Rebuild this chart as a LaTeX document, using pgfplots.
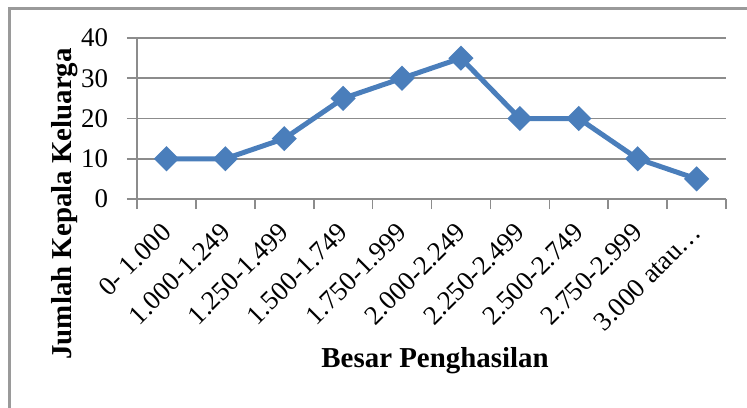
\documentclass[border=0pt]{standalone}
\usepackage{fontspec}
\setmainfont{Liberation Serif}
\usepackage{pgfplots}
\pgfplotsset{compat=1.18}
\definecolor{lineblue}{HTML}{4A7EBB}
\definecolor{gridgray}{HTML}{8C8C8C}
\definecolor{framegray}{HTML}{9A9A9A}
\begin{document}
\begin{tikzpicture}
\useasboundingbox (0,0) rectangle (373.5bp,204bp);
\begin{scope}
\clip (0,0) rectangle (373.5bp,204bp);
\draw[framegray, line width=1.5bp] (4.5bp,199.5bp) rectangle (400bp,-20bp);
\end{scope}
\begin{axis}[
  at={(68.5bp,104.5bp)}, anchor=south west,
  scale only axis, width=294.5bp, height=80.5bp,
  xmin=-0.5, xmax=9.5, ymin=0, ymax=40,
  axis x line*=bottom, axis y line*=left,
  axis line style={gridgray, line width=0.8bp},
  ytick={0,10,20,30,40},
  ymajorgrids, grid style={gridgray, line width=0.8bp},
  xtick={-0.5,0.5,1.5,2.5,3.5,4.5,5.5,6.5,7.5,8.5,9.5}, xticklabels={},
  extra x ticks={0,1,2,3,4,5,6,7,8,9},
  extra x tick labels={0- 1.000,1.000-1.249,1.250-1.499,1.500-1.749,1.750-1.999,2.000-2.249,2.250-2.499,2.500-2.749,2.750-2.999,3.000 atau…},
  extra x tick style={major tick length=0pt, grid=none,
    tick label style={xshift=2.5bp, yshift=-12bp, rotate=45, anchor=east}},
  tick align=outside, major tick length=5bp,
  tick style={gridgray, line width=0.8bp},
  /pgf/number format/assume math mode=true,
  tick label style={font=\fontsize{13.5}{14}\selectfont},
  yticklabel style={xshift=-6bp},
  ylabel={\bfseries Jumlah Kepala Keluarga},
  ylabel style={font=\fontsize{14.5}{16}\selectfont, at={(axis description cs:-0.122,-0.03)}, anchor=center},
  xlabel={\bfseries Besar Penghasilan},
  xlabel style={font=\fontsize{14.5}{16}\selectfont, at={(axis description cs:0.506,-1.006)}, anchor=center},
  clip=false,
]
\addplot[lineblue, line width=2.5bp, mark=square*, mark size=3.2bp, mark options={rotate=45, solid, fill=lineblue}]
  coordinates {(0,10) (1,10) (2,15) (3,25) (4,30) (5,35) (6,20) (7,20) (8,10) (9,5)};
\end{axis}
\end{tikzpicture}
\end{document}
